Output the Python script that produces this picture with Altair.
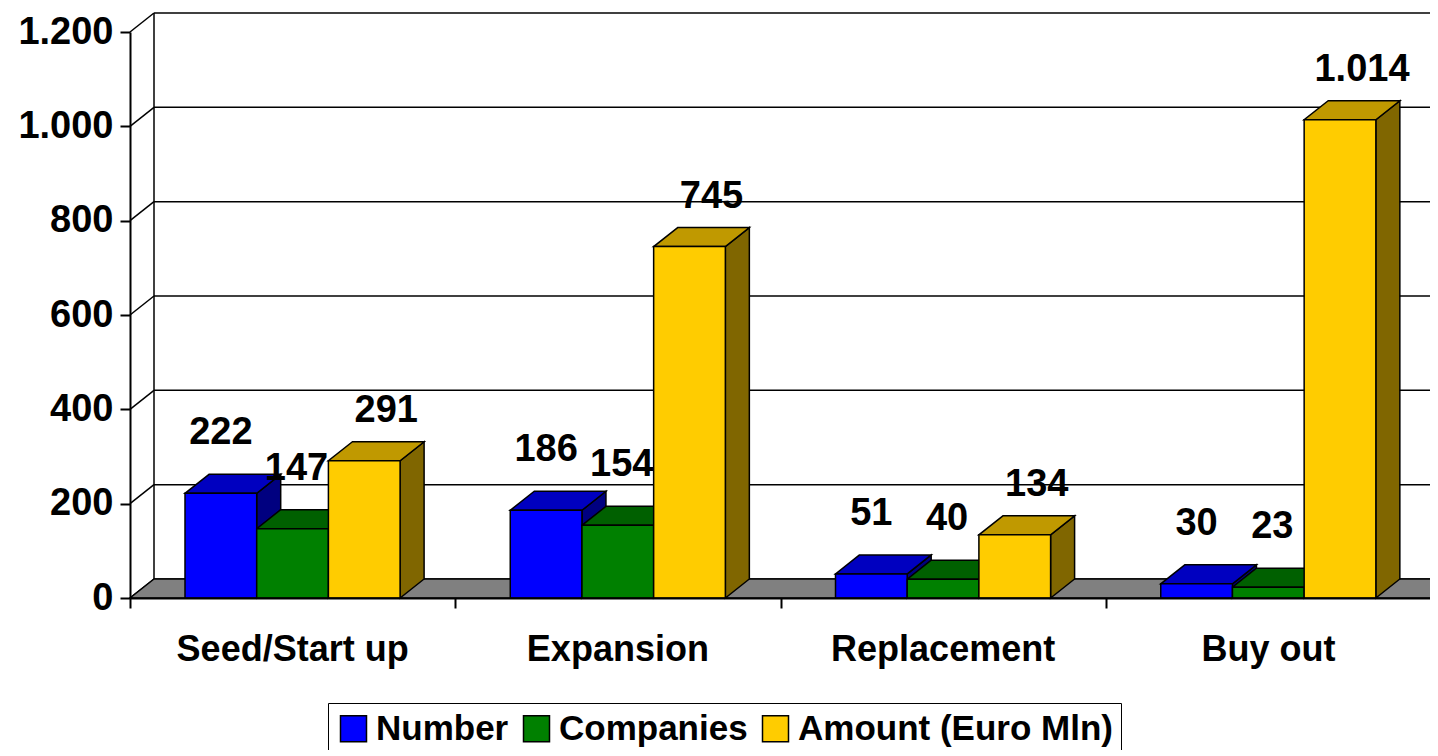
import altair as alt
import pandas as pd

# ---- data ----
categories = ["Seed/Start up", "Expansion", "Replacement", "Buy out"]
series = ["Number", "Companies", "Amount (Euro Mln)"]
number = [222, 186, 51, 30]
companies = [147, 154, 40, 23]
amount = [291, 745, 134, 1014]
y_ticks = [0, 200, 400, 600, 800, 1000, 1200]

# ---- styles ----
front_colors = ["#0000FF", "#008000", "#FFCC00"]
top_colors = ["#0000C0", "#006000", "#C09900"]
side_colors = ["#000080", "#004000", "#806600"]
FONT = "Liberation Sans"

# ---- 3D geometry (scale units) ----
W, H = 1300, 566
PX_X = 325.25            # pixels per category
PX_Y = H / 1200.0        # pixels per value unit
DX = 24 / PX_X           # depth, horizontal
DY = 19 / PX_Y           # depth, vertical
BAR_W = 71.7 / PX_X
GAP = 55 / PX_X
XDOM = W / PX_X
XMAX = XDOM + 0.3

values = [number, companies, amount]

fronts, tops, sides = [], [], []
for ci, cat in enumerate(categories):
    for si, s in enumerate(series):
        v = values[si][ci]
        x0 = ci + GAP + si * BAR_W
        x1 = x0 + BAR_W
        bid = f"{ci}-{si}"
        fronts.append(dict(series=s, x0=x0, x1=x1, xc=(x0 + x1) / 2, v=v,
                           label=f"{v:,}".replace(",", ".")))
        tops.append(dict(bid=bid, series=s, ty=v, ta=x0, tb=x1))
        tops.append(dict(bid=bid, series=s, ty=v + DY, ta=x0 + DX, tb=x1 + DX))
        sides.append(dict(bid=bid, series=s, sx=x1, sa=v, sb=0))
        sides.append(dict(bid=bid, series=s, sx=x1 + DX, sa=v + DY, sb=DY))

fronts = pd.DataFrame(fronts)
tops = pd.DataFrame(tops)
sides = pd.DataFrame(sides)

rules = []
for t in y_ticks:
    rules.append(dict(rx=DX, rx2=XMAX + DX, ry=t + DY, ry2=t + DY))
    rules.append(dict(rx=0, rx2=DX, ry=t, ry2=t + DY))
rules.append(dict(rx=DX, rx2=DX, ry=DY, ry2=1200 + DY))
rules = pd.DataFrame(rules)

floor = pd.DataFrame([dict(fy=0, fa=0, fb=XMAX), dict(fy=DY, fa=DX, fb=XMAX + DX)])
cats = pd.DataFrame(dict(cx=[i + 0.5 for i in range(len(categories))], cat=categories, cy=0))

xs = alt.Scale(domain=[0, XDOM], nice=False, zero=False)
ys = alt.Scale(domain=[0, 1200], nice=False, zero=False)
xaxis = alt.Axis(values=[0, 1, 2, 3, 4], labels=False, title=None, grid=False, tickSize=10,
                 zindex=1)
yaxis = alt.Axis(values=y_ticks, title=None, grid=False, tickSize=10, zindex=1,
                 labelExpr="replace(format(datum.value, ','), ',', '.')")


def X(f):
    return alt.X(f, scale=xs, axis=xaxis)


def Y(f):
    return alt.Y(f, scale=ys, axis=yaxis, stack=None)


grid = alt.Chart(rules).mark_rule(color="black", strokeWidth=1.5).encode(
    x=X("rx:Q"), x2="rx2:Q", y=Y("ry:Q"), y2="ry2:Q",
)

floor_layer = alt.Chart(floor).mark_area(orient="horizontal", fill="#808080", stroke="black",
                                         strokeWidth=1.5).encode(
    y=Y("fy:Q"), x=X("fa:Q"), x2="fb:Q",
)

side_layer = alt.Chart(sides).mark_area(orient="vertical", stroke="black", strokeWidth=1.5,
                                        opacity=1).encode(
    x=X("sx:Q"), y=Y("sa:Q"), y2="sb:Q",
    color=alt.Color("series:N", scale=alt.Scale(domain=series, range=side_colors), legend=None),
    detail="bid:N",
)

top_layer = alt.Chart(tops).mark_area(orient="horizontal", stroke="black", strokeWidth=1.5,
                                      opacity=1).encode(
    y=Y("ty:Q"), x=X("ta:Q"), x2="tb:Q",
    color=alt.Color("series:N", scale=alt.Scale(domain=series, range=top_colors), legend=None),
    detail="bid:N",
)

front_layer = alt.Chart(fronts).mark_rect(stroke="black", strokeWidth=1.5, opacity=1).encode(
    x=X("x0:Q"), x2="x1:Q", y=Y("v:Q"), y2=alt.datum(0),
    color=alt.Color("series:N", sort=series,
                    scale=alt.Scale(domain=series, range=front_colors),
                    legend=alt.Legend(title=None, orient="none", legendX=198, legendY=671,
                                      direction="horizontal", columns=3,
                                      symbolType="square", symbolSize=676,
                                      symbolStrokeColor="black", symbolStrokeWidth=1.5,
                                      labelFont=FONT, labelFontSize=35, labelFontWeight="bold",
                                      labelColor="black", labelLimit=500,
                                      strokeColor="black", fillColor="white", padding=8,
                                      columnPadding=10, labelOffset=5)),
)

label_offsets = {"Number": (0, -60), "Companies": (4, -60), "Amount (Euro Mln)": (22, -50)}
label_layers = []
for s in series:
    ddx, ddy = label_offsets[s]
    label_layers.append(
        alt.Chart(fronts).transform_filter(alt.datum.series == s).mark_text(
            font=FONT, fontSize=38, fontWeight="bold", color="black", dx=ddx, dy=ddy,
            baseline="middle", align="center").encode(
            x=X("xc:Q"), y=Y("v:Q"), text="label:N",
        )
    )

cat_layer = alt.Chart(cats).mark_text(font=FONT, fontSize=36, fontWeight="bold", color="black",
                                      dy=52, baseline="middle", align="center").encode(
    x=X("cx:Q"), y=Y("cy:Q"), text="cat:N",
)

chart = alt.layer(grid, floor_layer, side_layer, top_layer, front_layer, *label_layers, cat_layer
                  ).resolve_scale(color="independent").properties(
    width=W, height=H,
    padding={"left": 122, "top": 24, "right": 0, "bottom": 152},
    autosize=alt.AutoSizeParams(type="none"),
).configure_view(stroke=None).configure_axis(
    labelFont=FONT, labelFontSize=38, labelFontWeight="bold", labelColor="black",
    domainColor="black", domainWidth=2, tickColor="black", tickWidth=2, labelPadding=7,
)

chart.save("out.html", embed_options={"renderer": "svg", "actions": False})
